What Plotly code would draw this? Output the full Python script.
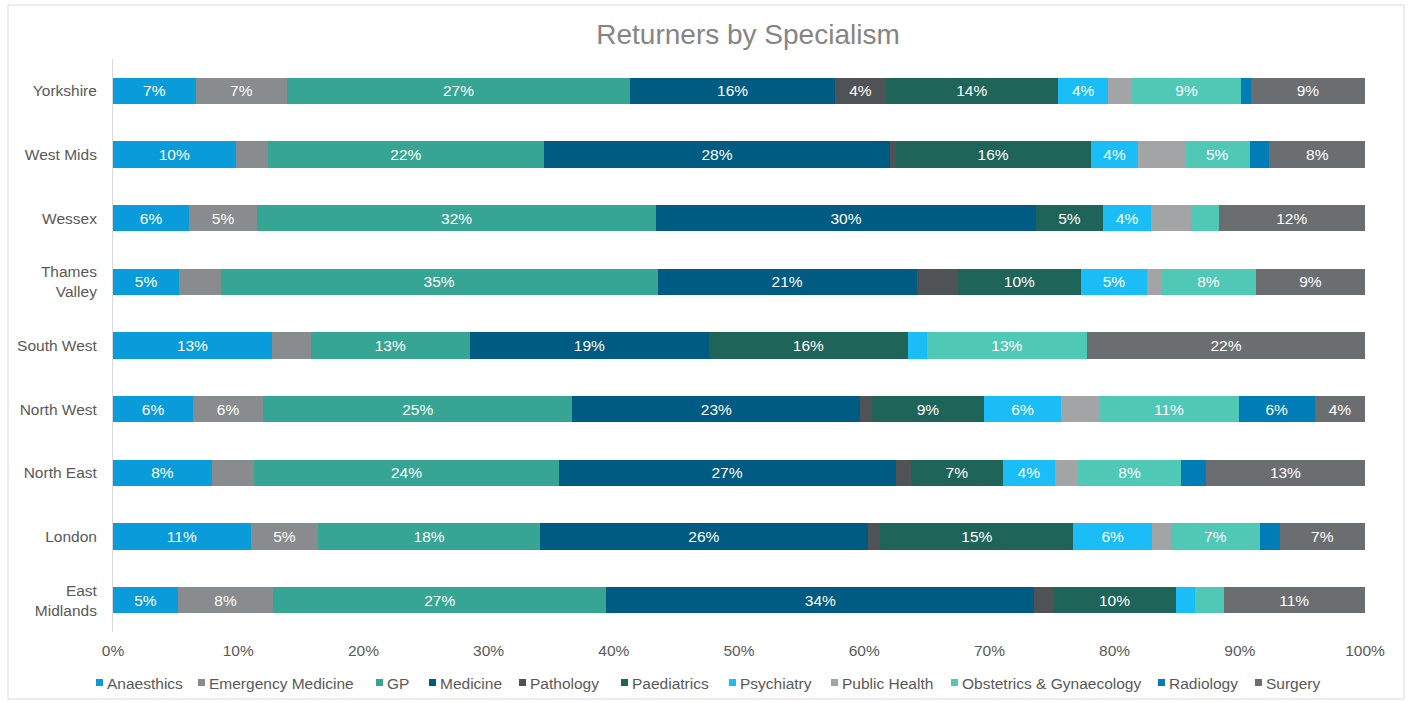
import plotly.graph_objects as go

regions = ["Yorkshire", "West Mids", "Wessex", "Thames<br>Valley", "South West",
           "North West", "North East", "London", "East<br>Midlands"]

anaesthics = [6.6, 9.8, 6.1, 5.3, 12.7, 6.4, 7.9, 11.0, 5.2]
emergency_medicine = [7.3, 2.6, 5.4, 3.3, 3.1, 5.6, 3.4, 5.4, 7.6]
gp = [27.4, 22.0, 31.9, 34.9, 12.7, 24.7, 24.3, 17.7, 26.6]
medicine = [16.4, 27.7, 30.3, 20.7, 19.1, 23.0, 26.9, 26.2, 34.2]
pathology = [4.0, 0.4, 0.0, 3.3, 0.0, 0.9, 1.2, 1.0, 1.5]
paediatrics = [13.8, 15.6, 5.4, 9.8, 15.9, 9.0, 7.4, 15.4, 9.8]
psychiatry = [4.0, 3.8, 3.8, 5.3, 1.5, 6.1, 4.1, 6.3, 1.5]
public_health = [1.9, 3.7, 3.2, 1.1, 0.0, 3.1, 1.9, 1.5, 0.0]
obs_gynae = [8.7, 5.2, 2.2, 7.6, 12.8, 11.1, 8.2, 7.1, 2.3]
radiology = [0.8, 1.5, 0.0, 0.0, 0.0, 6.1, 2.0, 1.6, 0.0]
surgery = [9.1, 7.8, 11.7, 8.7, 22.2, 4.0, 12.7, 6.8, 11.3]

series = [
    ("Anaesthics", anaesthics, "#0A9BDB"),
    ("Emergency Medicine", emergency_medicine, "#898C8E"),
    ("GP", gp, "#36A593"),
    ("Medicine", medicine, "#005B82"),
    ("Pathology", pathology, "#505355"),
    ("Paediatrics", paediatrics, "#1F6459"),
    ("Psychiatry", psychiatry, "#1BBDF7"),
    ("Public Health", public_health, "#A2A4A6"),
    ("Obstetrics & Gynaecology", obs_gynae, "#4FC8B6"),
    ("Radiology", radiology, "#007CB6"),
    ("Surgery", surgery, "#6B6E71"),
]

# legend layout (pixel x where each entry's text starts, one row)
legend_text_x = [107, 209, 387, 440, 530, 632, 740, 842, 962, 1169, 1266]

FONT = "Liberation Sans, Arial, sans-serif"
FS = 15.5
W, H = 1408, 702
ML, MR, MT, MB = 113, 43, 59, 70
PW, PH = W - ML - MR, H - MT - MB


def px_x(px):
    return (px - ML) / PW


def px_y(py):
    return (H - MB - py) / PH


fig = go.Figure()
for name, vals, color in series:
    texts = [f"{v:.0f}%" if v >= 3.75 else "" for v in vals]
    fig.add_trace(go.Bar(
        name=name, y=regions, x=[v / 100 for v in vals], orientation="h",
        marker=dict(color=color, line=dict(width=0)),
        text=texts, textposition="inside", insidetextanchor="middle",
        textfont=dict(color="white", size=FS, family=FONT),
        hoverinfo="skip", showlegend=False,
    ))

# one-row legend: square swatch + label for each series
legend_y = 683
for (name, vals, color), tx in zip(series, legend_text_x):
    fig.add_shape(type="rect", xref="paper", yref="paper",
                  x0=px_x(tx - 11), x1=px_x(tx - 4),
                  y0=px_y(686), y1=px_y(679),
                  fillcolor=color, line=dict(width=0))
    fig.add_annotation(text=name, xref="paper", yref="paper",
                       x=px_x(tx), y=px_y(legend_y), xanchor="left", yanchor="middle",
                       showarrow=False, borderpad=0, borderwidth=0,
                       font=dict(size=FS, color="#595959", family=FONT))

fig.update_layout(
    barmode="stack",
    bargap=0.59,
    width=W, height=H,
    margin=dict(l=ML, r=MR, t=MT, b=MB, autoexpand=False),
    paper_bgcolor="white", plot_bgcolor="white",
    font=dict(family=FONT, color="#595959", size=FS),
    title=dict(text="Returners by Specialism", x=748 / W, xref="container", xanchor="center",
               y=1 - 34 / H, yref="container", yanchor="middle",
               font=dict(size=28, color="#858585", family=FONT)),
    uniformtext=dict(minsize=FS, mode="show"),
    showlegend=False,
)
fig.update_xaxes(range=[0, 1], tickformat=".0%", dtick=0.1, showgrid=False,
                 zeroline=False, showline=False, ticks="", ticklabelstandoff=7,
                 tickfont=dict(size=FS, color="#595959"))
fig.update_yaxes(autorange="reversed", showgrid=False, showline=True, linecolor="#D9D9D9",
                 linewidth=1, ticks="", ticklabelstandoff=12,
                 tickfont=dict(size=FS, color="#595959"))

# outer chart border
fig.add_shape(type="rect", xref="paper", yref="paper",
              x0=px_x(8), x1=px_x(1404), y0=px_y(699), y1=px_y(5),
              line=dict(color="#D9D9D9", width=1), layer="below")

fig.write_html("out.html", config={"displayModeBar": False},
               post_script="document.body.style.margin='0';")
